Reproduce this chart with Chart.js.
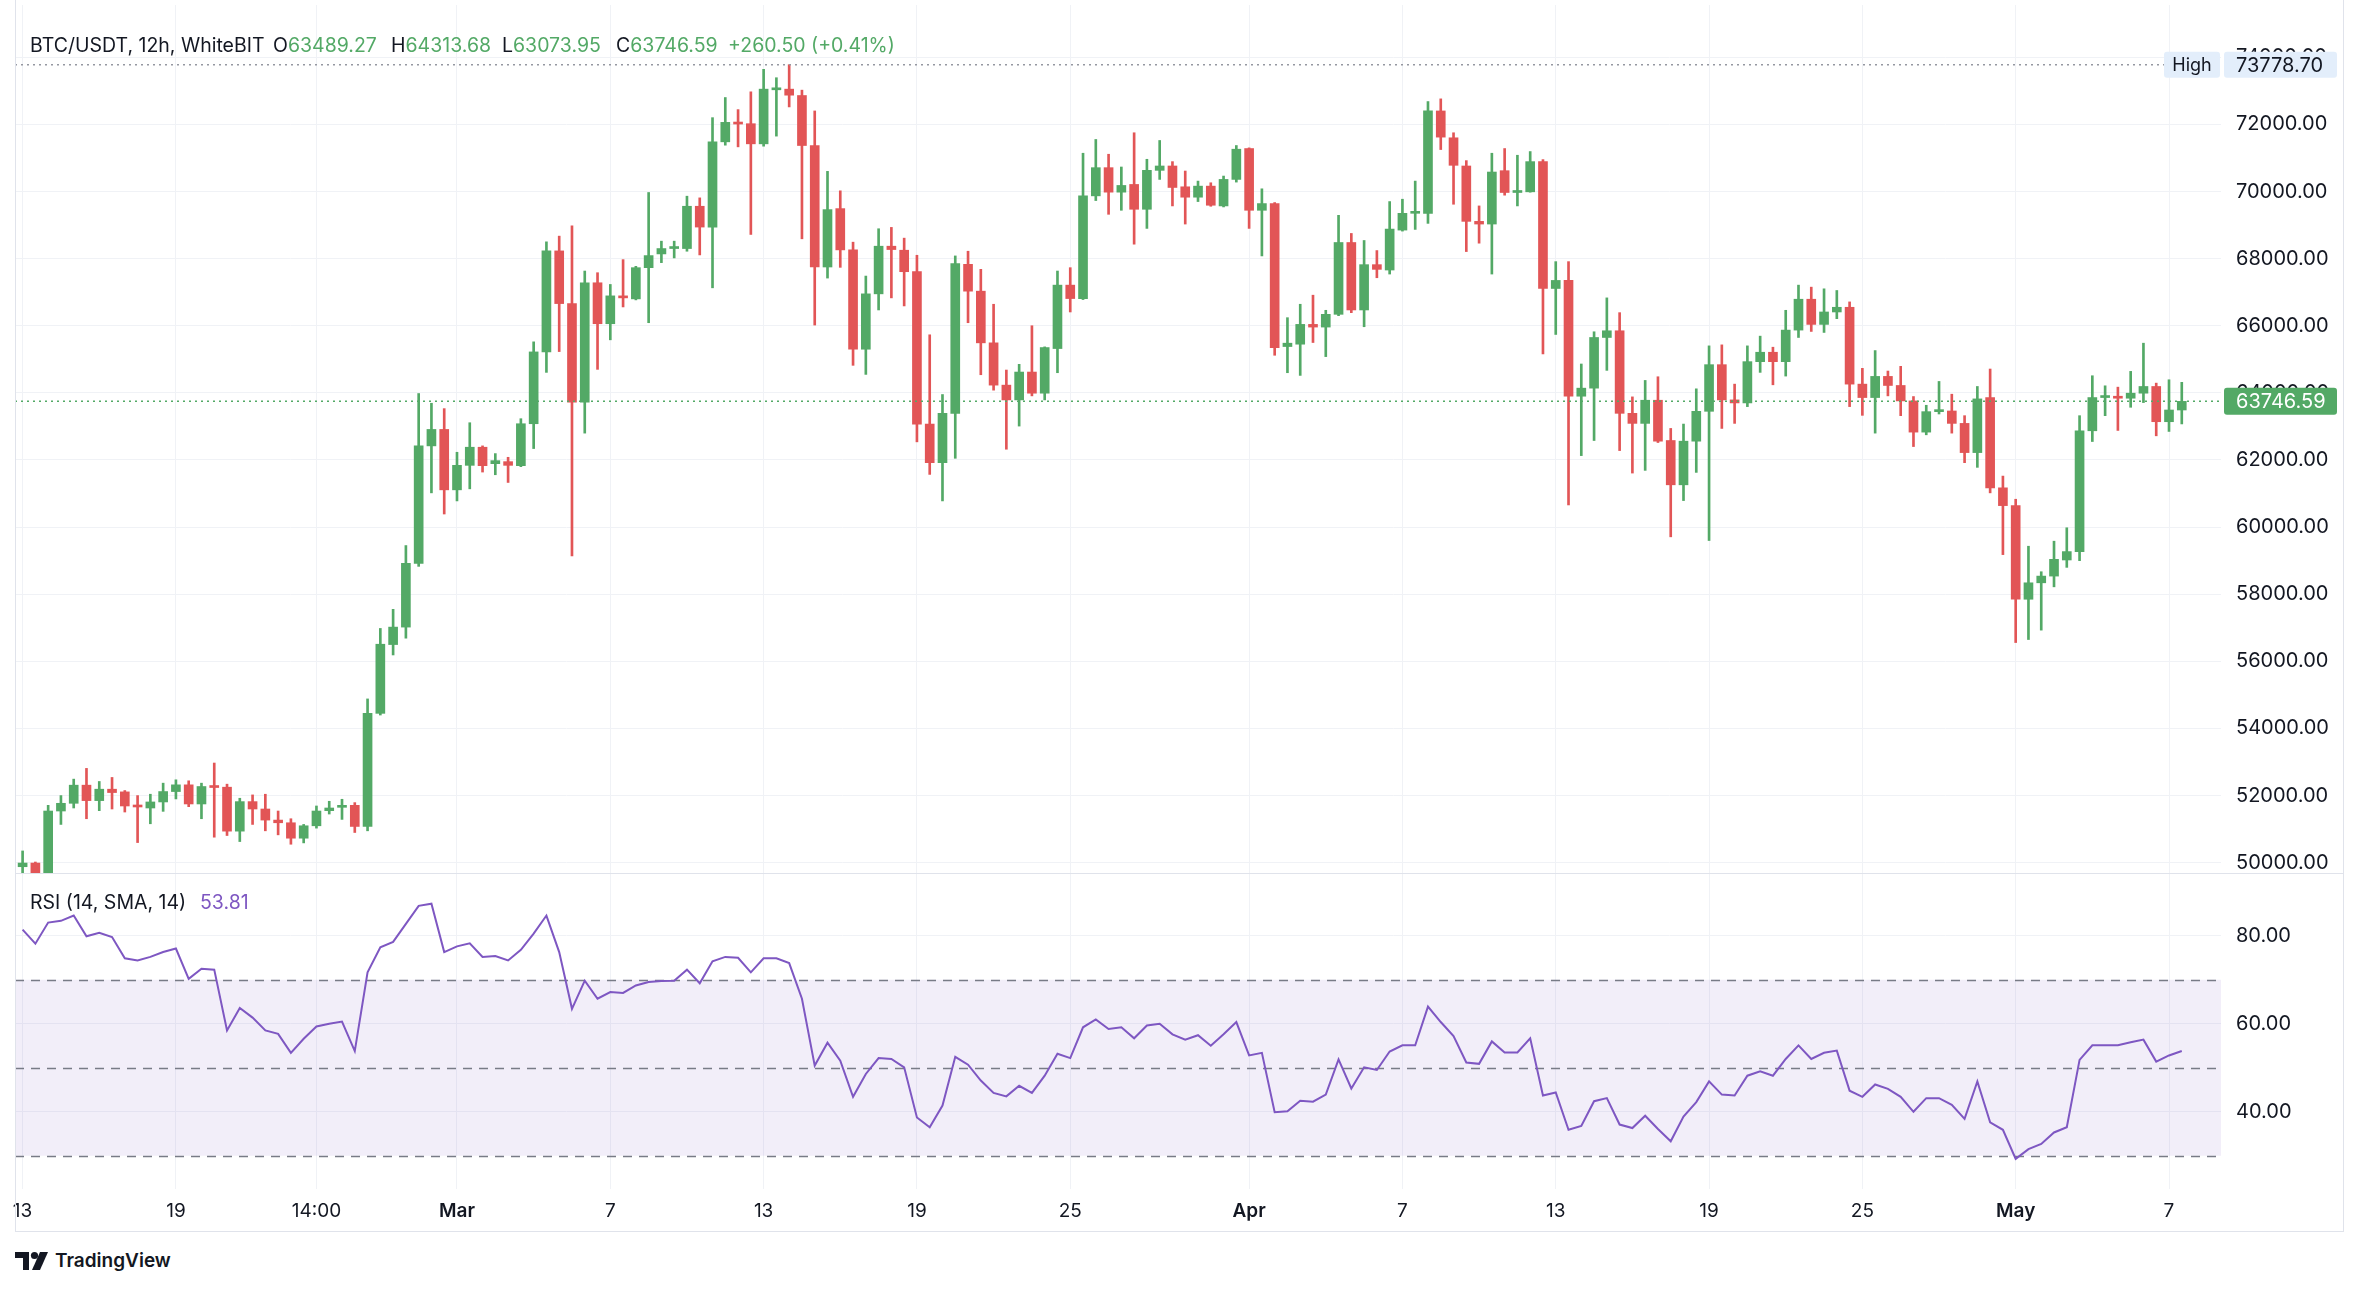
<!DOCTYPE html>
<html>
<head>
<meta charset="utf-8">
<script src="https://cdn.jsdelivr.net/npm/chart.js@4.4.1/dist/chart.umd.min.js"></script>
<style>
html, body { margin: 0; padding: 0; background: #fff; }
body { width: 2360px; height: 1290px; position: relative; overflow: hidden; font-family: Inter, 'Noto Sans', sans-serif; color: #131722; }
.pane { position: absolute; left: 0; width: 2343px; }
#pricePane { top: 5px; height: 868px; }
#rsiPane { top: 873px; height: 358px; }
.rule { position: absolute; background: #e0e3eb; }
.legend { position: absolute; font-size: 19.5px; line-height: 24px; white-space: nowrap; z-index: 5; }
.up { color: #53a966; }
.rsiv { color: #7e57c2; }
#logo { position: absolute; left: 15px; top: 1249px; display: flex; align-items: center; font-size: 19px; font-weight: 600; }
#logo svg { margin-right: 6px; }
</style>
</head>
<body>
<div class="pane" id="pricePane"><canvas id="priceChart"></canvas></div>
<div class="pane" id="rsiPane"><canvas id="rsiChart"></canvas></div>

<div class="rule" style="left:15px;top:0;width:1px;height:1231px"></div>
<div class="rule" style="left:2343px;top:0;width:1px;height:1231px"></div>
<div class="rule" style="left:15px;top:873px;width:2329px;height:1px"></div>
<div class="rule" style="left:15px;top:1231px;width:2329px;height:1px"></div>

<div class="legend" style="left:30px;top:33px">BTC/USDT, 12h, WhiteBIT</div>
<div class="legend" style="left:273px;top:33px">O<span class="up">63489.27</span></div>
<div class="legend" style="left:391px;top:33px">H<span class="up">64313.68</span></div>
<div class="legend" style="left:502px;top:33px">L<span class="up">63073.95</span></div>
<div class="legend" style="left:616px;top:33px">C<span class="up">63746.59</span></div>
<div class="legend up" style="left:728px;top:33px">+260.50 (+0.41%)</div>
<div class="legend" style="left:30px;top:890px">RSI (14, SMA, 14)</div>
<div class="legend rsiv" style="left:200px;top:890px">53.81</div>

<div id="logo">
<svg width="34" height="20" viewBox="0 0 34 20"><path d="M0 1H14V19H8V7H0Z" fill="#131722"/><circle cx="19.5" cy="4.5" r="3.6" fill="#131722"/><path d="M25 1H33L25 19H17Z" fill="#131722"/></svg>
TradingView</div>

<script>
// 12h candles, Feb 13 00:00 .. May 7 12:00 (index 0..169)
const open = [49880,49990,49640,51540,51770,52310,51850,52190,52110,51700,51630,51810,52120,52320,51750,52270,52250,50940,51820,51600,51270,51190,50730,51100,51550,51650,51710,51080,54450,56500,
57020,58920,62420,62910,61110,61840,62380,61890,61950,61830,63080,65220,68230,66660,63720,67280,66060,66890,66800,67730,68140,68300,68300,69560,68940,71480,72060,72020,71420,73030,
73050,72860,71370,67750,69490,68260,65300,66950,68370,68250,67610,63070,61920,63390,67830,67030,65490,64230,63790,64620,63990,65320,67210,66810,69870,70710,69980,70210,69470,70630,
70760,70140,69830,70160,69570,70360,71280,69440,69640,65380,65450,66040,65960,66340,68480,66470,67820,67660,68850,69350,69350,72400,71600,70760,69110,69030,70620,69970,69990,70890,
67110,67350,63900,64140,65650,65850,63390,63090,63780,62580,61260,62560,63450,64840,63790,63700,64930,65210,64930,65870,66790,66040,66410,66550,64260,63860,64490,64220,63760,62830,
63440,63460,63090,62220,63860,61170,60640,57850,58340,58540,59020,59270,62870,63860,63880,63840,63990,64190,63140,63489.27];
const high = [50350,50020,51710,52000,52490,52810,52420,52540,52150,52000,52040,52370,52470,52440,52370,52970,52340,51920,52020,52040,51540,51310,51140,51690,51830,51890,51790,54880,56980,57550,
59450,63980,63690,63530,62230,63110,62420,62190,62080,63230,65520,68500,68670,68980,67630,67580,67230,67970,67770,69970,68520,68520,69860,69810,72200,72800,72440,72970,73640,73390,
73778.70,73020,72400,70600,70020,68490,67480,68890,68930,68610,68100,65730,63950,68080,68220,67680,66640,64680,64850,66000,65370,67630,67730,71140,71550,71110,70730,71750,70960,71520,
70890,70610,70310,70260,70460,71370,71300,70080,69670,66240,66640,66910,66460,69290,68750,68540,68240,69700,69770,70310,72680,72760,71750,70920,69570,71140,71280,71080,71190,70950,
67910,67910,64860,65820,66830,66390,63880,64370,64480,62940,63070,64120,65400,65430,64260,65400,65690,65360,66460,67210,67150,67100,67050,66710,64730,65260,64650,64790,63890,63630,
64340,63960,63320,64190,64710,61520,60830,59430,58670,59580,59980,63320,64510,64210,64170,64640,65480,64290,64390,64313.68];
const low = [49600,49500,49550,51140,51630,51310,51550,51600,51510,50600,51160,51530,51900,51670,51310,50760,50810,50630,51140,50950,50830,50550,50590,51030,51450,51290,50900,50950,54400,56190,
56690,58830,61020,60390,60780,61140,61640,61560,61330,61800,62340,64610,65230,59140,62800,64700,65580,66560,66770,66090,67880,68020,68220,68110,67130,71380,71330,68720,71350,71650,
72520,68590,66020,67420,67740,64820,64550,66470,66830,66590,62540,61570,60780,62050,66090,64540,64080,62320,63010,63910,63790,64600,66410,66780,69730,69320,69440,68430,68900,70360,
69570,69030,69700,69560,69540,70280,68900,68080,65120,64600,64520,65500,65080,66300,66390,65970,67430,67540,68820,68870,69050,71250,69620,68210,68460,67540,69890,69570,69980,65160,
65740,60660,62130,62580,64670,62280,61610,61690,62520,59710,60790,61630,59600,62940,63090,63590,64610,64240,64500,65650,65830,65800,66210,63590,63330,62800,63910,63320,62400,62750,
63370,62800,61920,61780,61020,59180,56560,56650,56930,58220,58800,59000,62550,63320,62880,63570,63710,62720,62850,63073.95];
const close = [49990,49620,51540,51770,52310,51850,52190,52090,51690,51660,51810,52120,52320,51750,52270,52240,50940,51820,51600,51270,51190,50730,51100,51540,51630,51710,51080,54450,56510,57020,
58920,62420,62910,61110,61840,62380,61830,61980,61840,63080,65220,68230,66660,63720,67280,66060,66890,66830,67730,68090,68300,68330,69560,68940,71480,72060,72010,71420,73050,73060,
72870,71370,67750,69460,68260,65300,66950,68370,68270,67610,63070,61920,63390,67850,67030,65490,64230,63790,64620,63990,65350,67210,66810,69870,70710,69980,70180,69470,70630,70760,
70120,69830,70160,69590,70360,71260,69440,69640,65350,65480,66040,65960,66340,68480,66470,67820,67680,68880,69350,69390,72400,71620,70780,69110,69030,70580,69970,69990,70890,67110,
67350,63900,64140,65650,65850,63390,63090,63780,62560,61260,62560,63450,64840,63790,63700,64930,65210,64930,65870,66790,66040,66410,66550,64260,63860,64490,64220,63760,62830,63440,
63460,63090,62220,63820,61170,60640,57850,58340,58540,59040,59270,62870,63860,63880,63840,63990,64190,63140,63489.27,63746.59];

// RSI (14, SMA, 14)
const rsi = [81.4,78.2,83.0,83.4,84.6,79.9,80.7,79.7,74.9,74.4,75.2,76.3,77.1,70.2,72.5,72.3,58.5,63.6,61.4,58.5,57.7,53.4,56.6,59.4,60.0,60.5,53.8,71.7,77.4,78.6,
82.7,86.8,87.3,76.3,77.6,78.3,75.2,75.4,74.4,76.8,80.5,84.6,76.3,63.4,69.8,65.7,67.2,67.0,68.7,69.5,69.7,69.8,72.3,69.2,74.2,75.2,75.0,71.7,74.9,74.9,
73.8,65.7,50.5,55.7,51.6,43.4,48.6,52.2,52.0,50.1,38.7,36.5,41.4,52.5,50.7,47.1,44.3,43.5,45.9,44.3,48.2,53.2,52.2,59.2,61.0,58.8,59.2,56.7,59.6,60.0,
57.6,56.4,57.4,55.0,57.6,60.4,52.8,53.4,39.9,40.1,42.5,42.3,43.9,51.9,45.3,50.1,49.5,53.7,55.1,55.1,63.9,60.4,57.2,51.2,50.9,56.0,53.5,53.5,56.7,43.7,
44.4,35.9,36.8,42.4,43.1,37.1,36.3,39.1,36.1,33.3,38.9,42.2,46.9,43.9,43.7,48.2,49.2,48.2,52.0,55.1,52.0,53.4,53.9,44.8,43.4,46.2,45.2,43.4,40.0,43.1,
43.1,41.6,38.4,46.9,37.6,35.9,29.3,31.5,32.7,35.3,36.5,51.8,55.1,55.1,55.1,55.8,56.4,51.4,52.8,53.81];

const tickIdx = [0, 12, 23, 34, 46, 58, 70, 82, 96, 108, 120, 132, 144, 156, 168];
const tickText = ['13', '19', '14:00', 'Mar', '7', '13', '19', '25', 'Apr', '7', '13', '19', '25', 'May', '7'];
const monthTicks = ['Mar', 'Apr', 'May'];
const priceTicks = [50000, 52000, 54000, 56000, 58000, 60000, 62000, 64000, 66000, 68000, 70000, 72000, 74000];
const rsiTicks = [40, 60, 80];
const rsiLevels = [70, 50, 30];
const highMark = 73778.70;
const lastClose = 63746.59;

const upColor = '#53a966';
const downColor = '#e25556';
const gridColor = '#f0f2f6';
const textColor = '#131722';
const fontFamily = "Inter, 'Noto Sans', sans-serif";

const idx = open.map((_, i) => i);
const candleColor = idx.map(i => close[i] >= open[i] ? upColor : downColor);

const xRange = { min: -0.595, max: 172.07 };

function noPadding(s) {
    s.paddingTop = 0;
    s.paddingBottom = 0;
    s.paddingLeft = 0;
    s.paddingRight = 0;
}

function xAxis(showLabels) {
    return {
        type: 'linear',
        min: xRange.min,
        max: xRange.max,
        offset: false,
        grid: { color: gridColor, drawTicks: false, offset: false },
        border: { display: false },
        afterBuildTicks: s => { s.ticks = tickIdx.map(v => ({ value: v })); },
        afterFit: s => { s.height = showLabels ? 42 : 0; noPadding(s); },
        ticks: {
            display: showLabels,
            autoSkip: false,
            maxRotation: 0,
            padding: 11,
            color: textColor,
            font: c => ({
                family: fontFamily,
                size: 19,
                weight: monthTicks.includes(tickText[tickIdx.indexOf(c.tick && c.tick.value)]) ? '600' : '400'
            }),
            callback: v => tickText[tickIdx.indexOf(v)] || ''
        }
    };
}

function yAxis(min, max, ticks) {
    return {
        position: 'right',
        min: min,
        max: max,
        afterBuildTicks: s => { s.ticks = ticks.map(v => ({ value: v })); },
        afterFit: s => { s.width = 122; noPadding(s); },
        grid: { color: gridColor, drawTicks: false },
        border: { display: false },
        ticks: { padding: 15, color: textColor, font: { family: fontFamily, size: 20 }, callback: v => Number(v).toFixed(2) }
    };
}

function boxAt(ctx, x, yc, w, h, fill) {
    ctx.fillStyle = fill;
    ctx.beginPath();
    ctx.roundRect(x, yc - h / 2, w, h, 3);
    ctx.fill();
}

const priceMarks = {
    id: 'priceMarks',
    afterDatasetsDraw(chart) {
        const { ctx, chartArea: a, scales: { y } } = chart;
        ctx.save();
        ctx.lineWidth = 1.5;
        ctx.setLineDash([2, 4]);
        const yh = y.getPixelForValue(highMark);
        ctx.strokeStyle = '#9598a1';
        ctx.beginPath(); ctx.moveTo(a.left, yh); ctx.lineTo(a.right, yh); ctx.stroke();
        const yl = y.getPixelForValue(lastClose);
        ctx.strokeStyle = upColor;
        ctx.beginPath(); ctx.moveTo(a.left, yl); ctx.lineTo(a.right, yl); ctx.stroke();
        ctx.restore();
    },
    afterDraw(chart) {
        const { ctx, chartArea: a, scales: { y } } = chart;
        ctx.save();
        const yh = y.getPixelForValue(highMark);
        const yl = y.getPixelForValue(lastClose);
        ctx.textBaseline = 'middle';
        boxAt(ctx, a.right - 57, yh, 56, 26, '#e3eefb');
        boxAt(ctx, a.right + 3, yh, 113, 26, '#e3eefb');
        ctx.fillStyle = textColor;
        ctx.font = '18px ' + fontFamily;
        ctx.textAlign = 'center';
        ctx.fillText('High', a.right - 29, yh + 1);
        ctx.textAlign = 'left';
        ctx.font = '20px ' + fontFamily;
        ctx.fillText(highMark.toFixed(2), a.right + 15, yh + 1);
        boxAt(ctx, a.right + 3, yl, 113, 27, upColor);
        ctx.fillStyle = '#ffffff';
        ctx.fillText(lastClose.toFixed(2), a.right + 15, yl + 1);
        ctx.restore();
    }
};

const rsiBand = {
    id: 'rsiBand',
    beforeDatasetsDraw(chart) {
        const { ctx, chartArea: a, scales: { y } } = chart;
        const top = y.getPixelForValue(rsiLevels[0]);
        const bottom = y.getPixelForValue(rsiLevels[2]);
        ctx.save();
        ctx.fillStyle = 'rgba(126, 87, 194, 0.1)';
        ctx.fillRect(a.left, top, a.right - a.left, bottom - top);
        ctx.strokeStyle = '#787b86';
        ctx.lineWidth = 1.5;
        ctx.setLineDash([9, 7]);
        rsiLevels.forEach(v => {
            const yy = Math.round(y.getPixelForValue(v)) + 0.5;
            ctx.beginPath(); ctx.moveTo(a.left, yy); ctx.lineTo(a.right, yy); ctx.stroke();
        });
        ctx.restore();
    }
};

new Chart(document.getElementById('priceChart'), {
    type: 'bar',
    data: {
        datasets: [
            {
                label: 'body',
                data: idx.map(i => ({ x: i, y: [open[i], close[i]] })),
                backgroundColor: candleColor,
                barThickness: 9,
                minBarLength: 2,
                grouped: false,
                order: 0
            },
            {
                label: 'wick',
                data: idx.map(i => ({ x: i, y: [low[i], high[i]] })),
                backgroundColor: candleColor,
                barThickness: 2,
                grouped: false,
                order: 1
            }
        ]
    },
    options: {
        responsive: true,
        maintainAspectRatio: false,
        animation: false,
        layout: { padding: { left: 15, right: 0, top: 0, bottom: 0 } },
        plugins: { legend: { display: false }, tooltip: { enabled: false } },
        scales: {
            x: xAxis(false),
            y: yAxis(49693, 75557, priceTicks)
        }
    },
    plugins: [priceMarks]
});

new Chart(document.getElementById('rsiChart'), {
    type: 'line',
    data: {
        datasets: [{
            label: 'RSI',
            data: idx.map(i => ({ x: i, y: rsi[i] })),
            borderColor: '#7e57c2',
            borderWidth: 2,
            pointRadius: 0,
            tension: 0,
            fill: false
        }]
    },
    options: {
        responsive: true,
        maintainAspectRatio: false,
        animation: false,
        layout: { padding: { left: 15, right: 0, top: 0, bottom: 0 } },
        plugins: { legend: { display: false }, tooltip: { enabled: false } },
        scales: {
            x: xAxis(true),
            y: yAxis(22.45, 94.27, rsiTicks)
        }
    },
    plugins: [rsiBand]
});
</script>
</body>
</html>
